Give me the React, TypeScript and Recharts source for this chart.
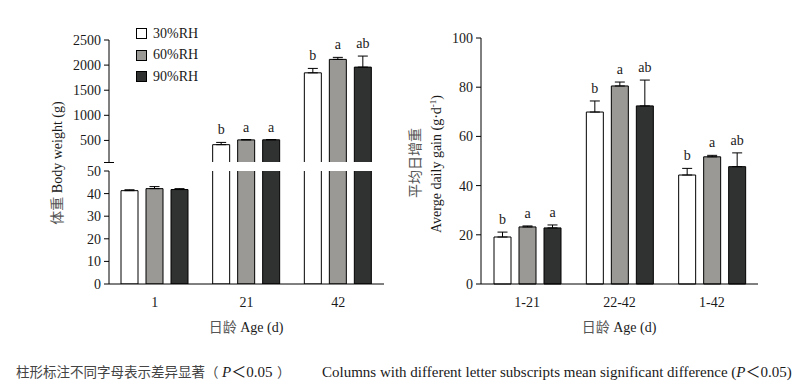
import { BarChart, Bar, XAxis, YAxis, ErrorBar, LabelList, Legend, Rectangle } from 'recharts';

// body weight by age (g)
const ages = ['1', '21', '42'];
const bw30 = [41.3, 415, 1846];
const bw60 = [42.2, 510, 2114];
const bw90 = [41.8, 512, 1960];
const bw30Sd = [0.4, 45, 88];
const bw60Sd = [0.9, 6, 40];
const bw90Sd = [0.4, 6, 220];
const bw30Sig = ['', 'b', 'b'];
const bw60Sig = ['', 'a', 'a'];
const bw90Sig = ['', 'a', 'ab'];

// average daily gain by period (g/d)
const periods = ['1-21', '22-42', '1-42'];
const adg30 = [19.1, 69.9, 44.3];
const adg60 = [23.2, 80.5, 51.7];
const adg90 = [22.8, 72.4, 47.7];
const adg30Sd = [2.0, 4.5, 2.7];
const adg60Sd = [0.4, 1.6, 0.6];
const adg90Sd = [1.2, 10.5, 5.6];
const adg30Sig = ['b', 'b', 'b'];
const adg60Sig = ['a', 'a', 'a'];
const adg90Sig = ['a', 'ab', 'ab'];

const seriesNames = ['30%RH', '60%RH', '90%RH'];
const fills = ['#ffffff', '#9a9996', '#303231'];

const highTicks = [50, 500, 1000, 1500, 2000, 2500];
const lowTicks = [0, 10, 20, 30, 40, 50];
const gainTicks = [0, 20, 40, 60, 80, 100];

const serif = '"Liberation Serif", "Times New Roman", "Noto Sans CJK SC", serif';
const ink = '#1a1a1a';
const cjkInk = '#555';

const weightRows = ages.map((age, i) => ({
  age,
  rh30: bw30[i], rh30Err: [0, bw30Sd[i]],
  rh60: bw60[i], rh60Err: [0, bw60Sd[i]],
  rh90: bw90[i], rh90Err: [0, bw90Sd[i]],
}));

const gainRows = periods.map((period, i) => ({
  period,
  rh30: adg30[i], rh30Err: [0, adg30Sd[i]],
  rh60: adg60[i], rh60Err: [0, adg60Sd[i]],
  rh90: adg90[i], rh90Err: [0, adg90Sd[i]],
}));

// letter placed just above the error bar cap
const sigLabel = (letters: string[], sds: number[], base: number) => (props: any) => {
  const { x, y, width, height, value, index } = props;
  const text = letters[index];
  if (!text) return null;
  const k = height / (value - base);
  const top = y - sds[index] * k;
  return (
    <text x={x + width / 2} y={top - 8} textAnchor="middle" fontSize={14} fontFamily={serif} fill={ink}>
      {text}
    </text>
  );
};

const legendContent = (props: any) => (
  <div style={{ fontFamily: serif, fontSize: 14, color: ink }}>
    {(props.payload || []).map((entry: any) => (
      <div key={entry.value} style={{ display: 'flex', alignItems: 'center', height: 21.5 }}>
        <span style={{ width: 9, height: 9, border: '1px solid #000', background: entry.color, marginRight: 6 }} />
        <span>{entry.value}</span>
      </div>
    ))}
  </div>
);

const tickStyle = { fontSize: 14, fontFamily: serif, fill: ink };
const axisLine = { stroke: '#000', strokeWidth: 1 };

// bars below the lower end of a broken axis segment are not drawn there
const clippedShape = (key: string, lo: number) => (p: any) =>
  p.payload[key] < lo ? <g /> : <Rectangle {...p} />;

const series = (sds: number[][], sigs: string[][] | null, base: number) =>
  ['rh30', 'rh60', 'rh90'].map((key, i) => (
    <Bar
      key={key}
      dataKey={key}
      name={seriesNames[i]}
      fill={fills[i]}
      stroke="#000"
      strokeWidth={1}
      barSize={17}
      shape={clippedShape(key, base)}
      isAnimationActive={false}
    >
      <ErrorBar dataKey={key + 'Err'} width={5} stroke="#000" strokeWidth={1} />
      {sigs && <LabelList dataKey={key} content={sigLabel(sigs[i], sds[i], base)} />}
    </Bar>
  ));

export default function App() {
  return (
    <div style={{ position: 'relative', width: 799, height: 388, background: '#fff', fontFamily: serif }}>
      <style>{'body{margin:0}'}</style>

      {/* body weight, upper segment of broken axis */}
      <div style={{ position: 'absolute', left: 0, top: 0, height: 162, overflow: 'hidden' }}>
        <BarChart width={400} height={163} data={weightRows} barGap={8}
          margin={{ top: 40, right: 16, bottom: 0, left: 0 }}>
          <XAxis dataKey="age" hide />
          <YAxis
            width={109}
            domain={[50, 2500]}
            ticks={highTicks}
            allowDataOverflow
            tick={tickStyle}
            tickSize={5}
            tickMargin={3}
            tickLine={axisLine}
            axisLine={axisLine}
            tickFormatter={(v: number) => (v === 50 ? '' : String(v))}
          />
          <Legend layout="vertical" align="center" verticalAlign="middle" content={legendContent}
            wrapperStyle={{ left: 136, top: 23, width: 'auto' }} />
          {series([bw30Sd, bw60Sd, bw90Sd], [bw30Sig, bw60Sig, bw90Sig], 50)}
        </BarChart>
      </div>

      {/* body weight, lower segment */}
      <div style={{ position: 'absolute', left: 0, top: 0 }}>
        <BarChart width={400} height={334} data={weightRows} barGap={8}
          margin={{ top: 171, right: 16, bottom: 0, left: 0 }}>
          <XAxis dataKey="age" height={50} tick={tickStyle} tickLine={false} tickSize={0} tickMargin={13} axisLine={axisLine} />
          <YAxis
            width={109}
            domain={[0, 50]}
            ticks={lowTicks}
            allowDataOverflow
            tick={tickStyle}
            tickSize={5}
            tickMargin={3}
            tickLine={axisLine}
            axisLine={axisLine}
          />
          {series([bw30Sd, bw60Sd, bw90Sd], null, 0)}
        </BarChart>
      </div>

      {/* average daily gain */}
      <div style={{ position: 'absolute', left: 400, top: 0 }}>
        <BarChart width={399} height={334} data={gainRows} barGap={8}
          margin={{ top: 38, right: 41, bottom: 0, left: 0 }}>
          <XAxis dataKey="period" height={50} tick={tickStyle} tickLine={false} tickSize={0} tickMargin={13} axisLine={axisLine} />
          <YAxis
            width={81}
            domain={[0, 100]}
            ticks={gainTicks}
            tick={tickStyle}
            tickSize={5}
            tickMargin={3}
            tickLine={axisLine}
            axisLine={axisLine}
          />
          {series([adg30Sd, adg60Sd, adg90Sd], [adg30Sig, adg60Sig, adg90Sig], 0)}
        </BarChart>
      </div>

      {/* axis titles and note */}
      <svg width={799} height={388} style={{ position: 'absolute', left: 0, top: 0, pointerEvents: 'none' }}>
        <line x1={104} x2={114} y1={162.5} y2={162.5} stroke="#000" strokeWidth={1} />
        <text transform="translate(62,163) rotate(-90)" textAnchor="middle" fontSize={14} fontFamily={serif} fill={ink}>
          <tspan fill={cjkInk}>体重</tspan> Body weight (g)
        </text>
        <text transform="translate(420,163) rotate(-90)" textAnchor="middle" fontSize={14} fontFamily={serif} fill={cjkInk}>
          平均日增重
        </text>
        <text transform="translate(441,164) rotate(-90)" textAnchor="middle" fontSize={14} fontFamily={serif} fill={ink}>
          Averge daily gain (g·d<tspan fontSize={9} dy={-5}>-1</tspan><tspan dy={5}>)</tspan>
        </text>
        <text x={246} y={332} textAnchor="middle" fontSize={14} fontFamily={serif} fill={ink}>
          <tspan fill={cjkInk}>日龄</tspan> Age (d)
        </text>
        <text x={619} y={332} textAnchor="middle" fontSize={14} fontFamily={serif} fill={ink}>
          <tspan fill={cjkInk}>日龄</tspan> Age (d)
        </text>
        <text x={16} y={377} fontSize={13.5} fontFamily={serif} fill="#444">
          柱形标注不同字母表示差异显著（
          <tspan x={222} fontSize={15} fontStyle="italic" fill={ink}>P</tspan>
          <tspan fontSize={15} fill={ink}>＜0.05</tspan>
          <tspan x={277}>）</tspan>
        </text>
        <text x={322} y={377} fontSize={15} fontFamily={serif} fill={ink}>
          Columns with different letter subscripts mean significant difference (<tspan fontStyle="italic">P</tspan>＜0.05)
        </text>
      </svg>
    </div>
  );
}
